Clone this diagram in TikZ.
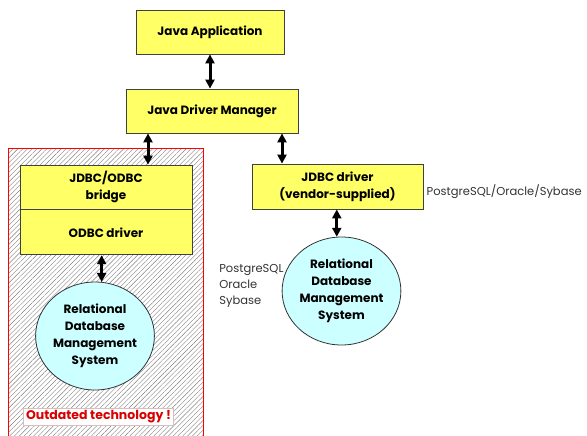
\documentclass[tikz,border=0pt]{standalone}
\usepackage{fontspec}
\setmainfont{Poppins}
\usetikzlibrary{arrows.meta,patterns.meta,positioning,shapes.geometric}

\definecolor{layeryellow}{HTML}{FFFF66}
\definecolor{dbcyan}{HTML}{CCFFFF}
\definecolor{hatchgray}{HTML}{808080}

\tikzset{
  layer/.style={draw=black!75,fill=layeryellow,line width=0.8pt,align=center,
    inner sep=0pt,font=\bfseries\fontsize{12}{17}\selectfont},
  dbms/.style={ellipse,draw=black!80,fill=dbcyan,line width=0.8pt,align=center,
    inner sep=0pt,font=\bfseries\fontsize{12}{17}\selectfont},
  link/.style={line width=3pt,{Triangle[width=9pt,length=9pt]}-{Triangle[width=9pt,length=9pt]}},
  vendor/.style={inner sep=1pt,align=left,font=\fontsize{11.5}{16}\selectfont,text=black!80}
}

\begin{document}
\begin{tikzpicture}[x=1pt,y=-1pt]
  \useasboundingbox (0,0) rectangle (587,436);

  % outdated branch
  \draw[red,line width=0.8pt,fill=white,
    pattern={Lines[angle=45,distance=3.4pt,line width=0.4pt]},pattern color=hatchgray]
    (8,148) rectangle (203,440);

  \node[layer,minimum width=148pt,minimum height=44pt] (app) at (210,32) {Java Application};
  \node[layer,minimum width=172pt,minimum height=44pt] (mgr) at (212,111) {Java Driver Manager};
  \node[layer,minimum width=172pt,minimum height=44pt] (bridge) at (106,187) {JDBC/ODBC\\bridge};
  \node[layer,minimum width=172pt,minimum height=45pt,below=0pt of bridge] (odbc) {ODBC driver};
  \node[layer,minimum width=171pt,minimum height=45pt] (jdbc) at (337.5,186.5) {JDBC driver\\(vendor-supplied)};

  \node[dbms,minimum width=104pt,minimum height=108pt] (dbl) at (95,336)
    {Relational\\Database\\Management\\System};
  \node[dbms,minimum width=117pt,minimum height=108pt] (dbr) at (341.5,291)
    {Relational\\Database\\Management\\System};

  \node[draw=red!30!gray!40,fill=white,text=red!85!black,inner sep=1.5pt,
    font=\bfseries\fontsize{12.5}{14}\selectfont,minimum width=150pt,minimum height=17pt]
    (old) at (98.5,417) {Outdated technology !};

  \node[vendor,anchor=west,yshift=-5pt,xshift=2pt] (vlist) at (jdbc.east) {PostgreSQL/Oracle/Sybase};
  \node[vendor,left=0pt of dbr,yshift=5pt,xshift=3pt] (vstack) {PostgreSQL\\Oracle\\Sybase};

  \draw[link] (app.south) -- (app.south |- mgr.north);
  \draw[link] ([xshift=-64pt]mgr.south) -- ([xshift=-64pt]mgr.south |- bridge.north);
  \draw[link] ([xshift=70pt]mgr.south) -- ([xshift=70pt]mgr.south |- jdbc.north);
  \draw[link] (odbc.south -| dbl.83) -- (dbl.83);
  \draw[link] (jdbc.south -| dbr.95) -- (dbr.95);
\end{tikzpicture}
\end{document}
